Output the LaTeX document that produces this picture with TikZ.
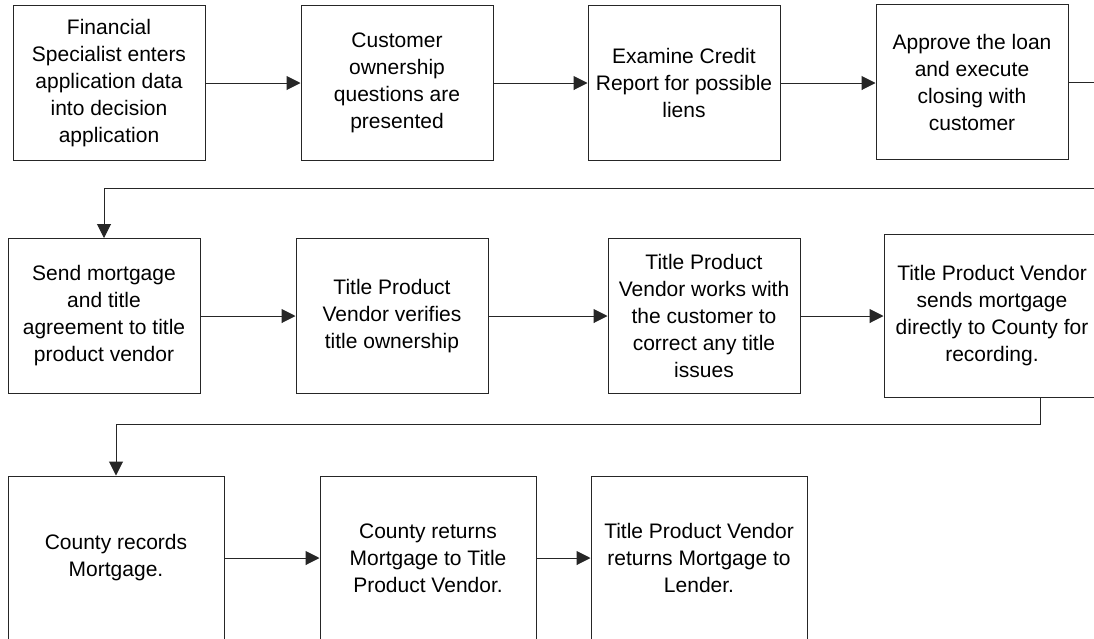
\documentclass[tikz,border=0pt]{standalone}
\usepackage{fontspec}
\setmainfont{Liberation Sans}
\usetikzlibrary{arrows.meta}
\begin{document}
\begin{tikzpicture}[x=1pt,y=-1pt,
  stepbox/.style={draw=black!85, line width=1pt, rectangle, inner sep=0pt,
    align=center, font=\fontsize{21}{27}\selectfont,
    minimum width=192pt, minimum height=155pt},
  bigbox/.style={stepbox, minimum width=216pt, minimum height=164pt},
  conn/.style={draw=black!85, line width=1pt},
  arr/.style={conn, -{Triangle[length=14pt,width=14pt]}}]
\useasboundingbox (0,0) rectangle (1094,638);
\clip (0,0) rectangle (1094,638);
% row 1
\node[stepbox] (b1) at (109,83) {Financial\\Specialist enters\\application data\\into decision\\application};
\node[stepbox] (b2) at (397,83) {Customer\\ownership\\questions are\\presented};
\node[stepbox] (b3) at (684,83) {Examine Credit\\Report for possible\\liens};
\node[stepbox] (b4) at (972,82) {Approve the loan\\and execute\\closing with\\customer};
% row 2
\node[stepbox] (b5) at (104,316) {Send mortgage\\and title\\agreement to title\\product vendor};
\node[stepbox] (b6) at (392,316) {Title Product\\Vendor verifies\\title ownership};
\node[stepbox] (b7) at (704,316) {Title Product\\Vendor works with\\the customer to\\correct any title\\issues};
\node[bigbox, minimum height=163pt] (b8) at (992,316) {Title Product Vendor\\sends mortgage\\directly to County for\\recording.};
% row 3
\node[bigbox] (b9) at (116,558) {County records\\Mortgage.};
\node[bigbox] (b10) at (428,558) {County returns\\Mortgage to Title\\Product Vendor.};
\node[bigbox] (b11) at (699,558) {Title Product Vendor\\returns Mortgage to\\Lender.};
% connectors
\coordinate (e1) at (1094,82);
\coordinate (e2) at (1094,188);
\coordinate (d8) at (1040,0);
\draw[arr] (b1.east) -- (b2.west);
\draw[arr] (b2.east) -- (b3.west);
\draw[arr] (b3.east) -- (b3.east -| b4.west);
\draw[conn] (b4.east) -- (e1);
\draw[arr] (e2) -| (b5.north);
\draw[arr] (b5.east) -- (b6.west);
\draw[arr] (b6.east) -- (b7.west);
\draw[arr] (b7.east) -- (b8.west);
\draw[arr] (b8.south -| d8) -- ++(0,26) -| (b9.north);
\draw[arr] (b9.east) -- (b10.west);
\draw[arr] (b10.east) -- (b11.west);
\end{tikzpicture}
\end{document}
